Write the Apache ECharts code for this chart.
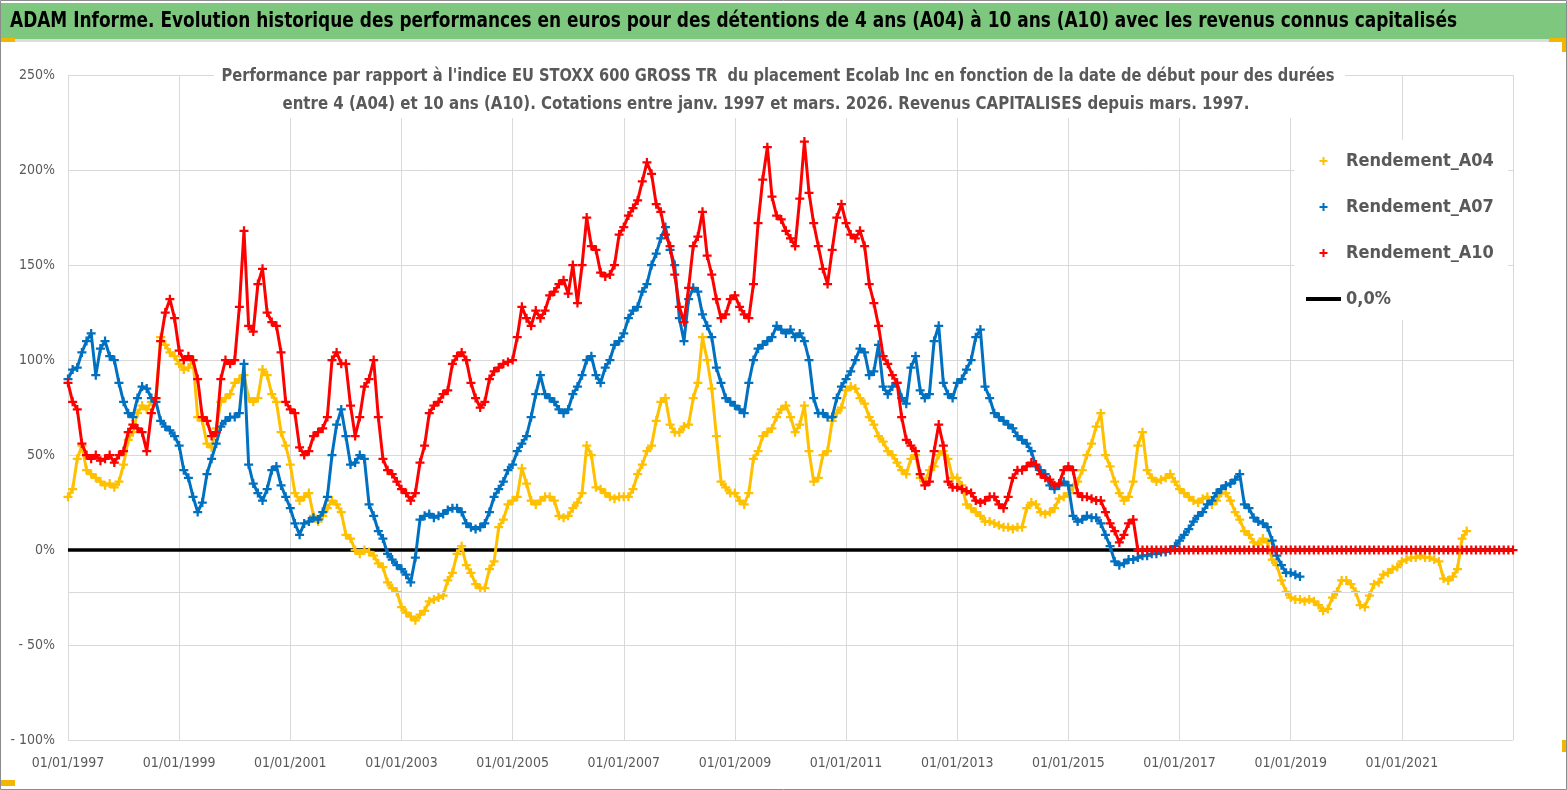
<!DOCTYPE html>
<html>
<head>
<meta charset="utf-8">
<title>Ecolab Inc - Rendements A04 A07 A10</title>
<script src="https://cdn.jsdelivr.net/npm/echarts@6/dist/echarts.min.js"></script>
<style>
  html, body { margin: 0; padding: 0; background: #fff; }
  #chart { width: 1567px; height: 790px; }
</style>
</head>
<body>
<div id="chart"></div>
<script>
// première date de la série, un point par mois
const START_YEAR = 1997;
const X_MAX = 26;            // 01/01/2023
const AXIS_CROSS = -22.4;    // ligne de l'axe horizontal

const Y_MIN = -100;
const Y_MAX = 250;
const Y_STEP = 50;

// Rendement_A04 (mensuel, à partir de janv. 1997)
const a04 = [
  28, 32, 48, 55, 42, 40, 38, 36, 34, 35, 33, 36,          // 1997
  45, 58, 62, 72, 76, 74, 78, 80, 112, 108, 104, 102,      // 1998
  98, 95, 96, 100, 70, 68, 56, 54, 64, 78, 80, 82,         // 1999
  88, 90, 92, 80, 78, 80, 95, 92, 82, 78, 62, 55,          // 2000
  45, 30, 26, 28, 30, 18, 15, 18, 22, 26, 24, 20,          // 2001
  8, 6, 0, -2, 0, -1, -3, -7, -9, -17, -20, -22,           // 2002
  -30, -33, -35, -37, -34, -32, -27, -26, -25, -24, -16, -12, // 2003
  -2, 2, -8, -12, -18, -20, -20, -10, -6, 12, 16, 24,      // 2004
  26, 28, 43, 35, 26, 24, 26, 28, 28, 26, 18, 17,          // 2005
  18, 22, 25, 30, 55, 50, 33, 32, 30, 28, 27, 28,          // 2006
  28, 28, 32, 40, 45, 52, 55, 68, 78, 80, 66, 62,          // 2007
  62, 65, 66, 80, 88, 112, 100, 85, 60, 36, 33, 30,        // 2008
  30, 26, 24, 30, 48, 52, 60, 62, 64, 70, 74, 76,          // 2009
  70, 62, 66, 76, 52, 36, 38, 50, 52, 68, 72, 75,          // 2010
  84, 86, 85, 80, 77, 70, 66, 60, 57, 52, 50, 46,          // 2011
  42, 40, 48, 50, 38, 36, 42, 44, 50, 52, 48, 38,          // 2012
  38, 34, 24, 22, 20, 18, 15, 15, 14, 13, 12, 12,          // 2013
  11, 12, 12, 22, 25, 24, 20, 19, 20, 22, 27, 28,          // 2014
  30, 33, 36, 42, 50, 56, 65, 72, 50, 44, 36, 30,          // 2015
  26, 28, 36, 55, 62, 42, 38, 36, 37, 38, 40, 36,          // 2016
  32, 30, 28, 26, 25, 27, 28, 24, 26, 30, 30, 26,          // 2017
  20, 16, 10, 8, 4, 3, 6, 4, -5, -8, -16, -22,             // 2018
  -25, -26, -26, -27, -26, -27, -29, -32, -31, -25, -22, -16, // 2019
  -16, -18, -22, -29, -30, -24, -18, -17, -13, -12, -10, -9, // 2020
  -6, -5, -4, -4, -3, -4, -4, -5, -6, -15, -16, -14,       // 2021
  -10, 6, 10                                               // 2022
];

// Rendement_A07
const a07 = [
  90, 95, 96, 104, 110, 114, 92, 106, 110, 102, 100, 88,   // 1997
  78, 72, 70, 80, 86, 85, 80, 78, 68, 65, 63, 60,          // 1998
  55, 42, 38, 28, 20, 25, 40, 48, 56, 65, 68, 70,          // 1999
  70, 72, 98, 45, 35, 30, 26, 32, 42, 44, 34, 28,          // 2000
  22, 14, 8, 14, 15, 17, 16, 20, 28, 50, 66, 74,           // 2001
  60, 45, 46, 50, 48, 24, 18, 10, 6, -2, -5, -8,           // 2002
  -10, -13, -17, -4, 16, 18, 19, 17, 18, 19, 21, 22,       // 2003
  22, 20, 14, 12, 11, 12, 14, 20, 28, 32, 36, 42,          // 2004
  45, 52, 56, 60, 70, 82, 92, 82, 80, 78, 74, 72,          // 2005
  74, 82, 86, 92, 100, 102, 92, 88, 96, 100, 108, 110,     // 2006
  114, 122, 126, 128, 136, 140, 150, 156, 164, 170, 158, 150, // 2007
  122, 110, 132, 138, 136, 124, 118, 112, 96, 88, 80, 78,  // 2008
  76, 74, 72, 88, 100, 106, 108, 110, 112, 118, 116, 114,  // 2009
  116, 112, 114, 110, 100, 80, 72, 72, 70, 70, 80, 86,     // 2010
  90, 94, 100, 106, 104, 92, 94, 108, 86, 82, 86, 88,      // 2011
  80, 77, 96, 102, 84, 80, 82, 110, 118, 88, 82, 80,       // 2012
  88, 90, 95, 100, 112, 116, 86, 80, 72, 70, 68, 66,       // 2013
  64, 60, 58, 56, 52, 44, 42, 40, 34, 32, 34, 36,          // 2014
  34, 18, 15, 16, 18, 17, 17, 14, 8, 2, -6, -8,            // 2015
  -7, -5, -5, -4, -3, -3, -2, -2, -1, -1, 0, 2,            // 2016
  5, 8, 11, 15, 18, 20, 24, 26, 30, 32, 34, 35,            // 2017
  37, 40, 24, 22, 17, 15, 14, 12, 5, -3, -8, -12,          // 2018
  -12, -13, -14                                            // 2019
];

// Rendement_A10 (nul après mars 2016 : durée non atteinte)
const a10 = [
  88, 78, 74, 56, 50, 48, 50, 47, 48, 50, 46, 50,          // 1997
  52, 62, 66, 64, 62, 52, 72, 80, 110, 125, 132, 122,      // 1998
  105, 100, 102, 100, 90, 70, 68, 60, 62, 90, 100, 98,     // 1999
  100, 128, 168, 118, 115, 140, 148, 125, 120, 118, 104, 78, // 2000
  74, 72, 54, 50, 52, 60, 62, 64, 70, 100, 104, 98,        // 2001
  98, 76, 60, 70, 86, 90, 100, 70, 48, 42, 40, 36,         // 2002
  32, 30, 26, 30, 46, 55, 72, 76, 78, 82, 84, 98,          // 2003
  102, 104, 100, 88, 80, 75, 78, 90, 94, 96, 98, 99,       // 2004
  100, 112, 128, 122, 118, 126, 122, 126, 134, 136, 140, 142, // 2005
  135, 150, 130, 150, 175, 160, 158, 146, 144, 145, 150, 166, // 2006
  170, 176, 180, 184, 194, 204, 198, 182, 178, 166, 160, 145, // 2007
  128, 120, 138, 160, 165, 178, 155, 145, 132, 122, 124, 132, // 2008
  134, 128, 124, 122, 140, 172, 195, 212, 186, 176, 174, 168, // 2009
  164, 160, 185, 215, 188, 172, 160, 148, 140, 158, 175, 182, // 2010
  172, 166, 164, 168, 160, 140, 130, 118, 102, 98, 92, 88, // 2011
  70, 58, 55, 52, 40, 34, 36, 52, 66, 55, 36, 33,          // 2012
  33, 32, 31, 30, 26, 25, 26, 28, 28, 24, 22, 28,          // 2013
  38, 42, 42, 44, 46, 45, 40, 38, 37, 34, 35, 42,          // 2014
  44, 42, 30, 28, 28, 27, 26, 26, 20, 14, 10, 4,           // 2015
  8, 14, 16, 0, 0, 0, 0, 0, 0, 0, 0, 0,                    // 2016
  0, 0, 0, 0, 0, 0, 0, 0, 0, 0, 0, 0,                      // 2017
  0, 0, 0, 0, 0, 0, 0, 0, 0, 0, 0, 0,                      // 2018
  0, 0, 0, 0, 0, 0, 0, 0, 0, 0, 0, 0,                      // 2019
  0, 0, 0, 0, 0, 0, 0, 0, 0, 0, 0, 0,                      // 2020
  0, 0, 0, 0, 0, 0, 0, 0, 0, 0, 0, 0,                      // 2021
  0, 0, 0, 0, 0, 0, 0, 0, 0, 0, 0, 0,                      // 2022
  0                                                        // 2023
];

// ligne 0,0%
const zeroLine = [[0, 0], [X_MAX, 0]];

const seriesNames = ['Rendement_A04', 'Rendement_A07', 'Rendement_A10', '0,0%'];
const seriesColors = ['#FFC000', '#0070C0', '#FF0000', '#000000'];

const TITLE = 'ADAM Informe. Evolution historique des performances en euros pour des détentions de 4 ans (A04) à 10 ans (A10) avec les revenus connus capitalisés';
const SUB1 = "Performance par rapport à l'indice EU STOXX 600 GROSS TR  du placement Ecolab Inc en fonction de la date de début pour des durées";
const SUB2 = 'entre 4 (A04) et 10 ans (A10). Cotations entre janv. 1997 et mars. 2026. Revenus CAPITALISES depuis mars. 1997.';

const FONT = '"Liberation Sans Narrow", "DejaVu Sans Condensed", "Arial Narrow", sans-serif';
const PLUS = 'path://M3,0h2v8h-2zM0,3h8v2h-8z';
const DASH = 'path://M0,0h35v4h-35z';

// largeur horizontale ajustée sur la capture
function fitScale(text, size, weight, target) {
  const ctx = document.createElement('canvas').getContext('2d');
  ctx.font = weight + ' ' + size + 'px ' + FONT;
  return target / ctx.measureText(text).width;
}

function textEl(text, x, y, size, weight, color, align, target) {
  return {
    type: 'text', x, y, z: 20,
    scaleX: fitScale(text, size, weight, target),
    style: {
      text, fontSize: size, fontWeight: weight, fontFamily: FONT, fill: color,
      align, textAlign: align, verticalAlign: 'middle', textVerticalAlign: 'middle'
    }
  };
}

const toPoints = (vals) => vals.map((v, i) => [i / 12, v]);

function perfSeries(idx, vals) {
  const color = seriesColors[idx];
  return {
    name: seriesNames[idx],
    type: 'line',
    data: toPoints(vals),
    symbol: PLUS,
    symbolSize: 9,
    showSymbol: true,
    itemStyle: { color },
    lineStyle: { color, width: 3 },
    emphasis: { disabled: true },
    z: 3 + idx
  };
}

const chart = echarts.init(document.getElementById('chart'));

chart.setOption({
  backgroundColor: '#ffffff',
  animation: false,
  grid: { left: 68, right: 54, top: 75, bottom: 50, containLabel: false },
  xAxis: {
    type: 'value',
    min: 0,
    max: X_MAX,
    interval: 2,
    axisLine: { show: true, lineStyle: { color: '#d9d9d9' } },
    axisTick: { show: false },
    splitLine: { show: true, lineStyle: { color: '#d9d9d9', width: 1 } },
    axisLabel: {
      color: '#595959', fontSize: 14, fontFamily: FONT, margin: 16,
      formatter: (v) => (v >= X_MAX ? '' : '01/01/' + (START_YEAR + v))
    }
  },
  yAxis: {
    type: 'value',
    min: Y_MIN,
    max: Y_MAX,
    interval: Y_STEP,
    axisLine: { show: true, lineStyle: { color: '#d9d9d9' } },
    axisTick: { show: false },
    splitLine: { show: true, lineStyle: { color: '#d9d9d9', width: 1 } },
    axisLabel: {
      color: '#595959', fontSize: 14, fontFamily: FONT, margin: 13,
      formatter: (v) => (v < 0 ? '- ' + (-v) + '%' : v + '%')
    }
  },
  legend: {
    orient: 'vertical',
    left: 1294,
    top: 140,
    padding: [9, 14, 9, 12],
    backgroundColor: '#ffffff',
    itemWidth: 35,
    itemHeight: 8,
    itemGap: 22,
    textStyle: { fontSize: 18, fontWeight: 'bold', color: '#595959', fontFamily: FONT, lineHeight: 24 },
    data: [
      { name: seriesNames[0], icon: PLUS },
      { name: seriesNames[1], icon: PLUS },
      { name: seriesNames[2], icon: PLUS },
      { name: seriesNames[3], icon: DASH }
    ]
  },
  series: [
    {
      name: seriesNames[3],
      type: 'line',
      data: zeroLine,
      symbol: 'none',
      itemStyle: { color: seriesColors[3] },
      lineStyle: { color: seriesColors[3], width: 3.5 },
      emphasis: { disabled: true },
      z: 2,
      markLine: {
        silent: true,
        symbol: 'none',
        label: { show: false },
        lineStyle: { color: '#d9d9d9', width: 1, type: 'solid' },
        data: [{ yAxis: AXIS_CROSS }]
      }
    },
    perfSeries(0, a04),
    perfSeries(1, a07),
    perfSeries(2, a10)
  ],
  graphic: [
    { type: 'rect', z: 15, shape: { x: 0, y: 3, width: 1567, height: 36 }, style: { fill: '#7dc87e' } },
    { type: 'rect', z: 15, shape: { x: 0, y: 39, width: 1567, height: 3 }, style: { fill: '#dcdcdc' } },
    { type: 'rect', z: 16, shape: { x: 0, y: 38, width: 15, height: 4 }, style: { fill: '#f2b600' } },
    { type: 'rect', z: 16, shape: { x: 1549, y: 38, width: 18, height: 4 }, style: { fill: '#f2b600' } },
    { type: 'rect', z: 16, shape: { x: 1562, y: 38, width: 5, height: 14 }, style: { fill: '#f2b600' } },
    { type: 'rect', z: 16, shape: { x: 1562, y: 740, width: 5, height: 12 }, style: { fill: '#f2b600' } },
    { type: 'rect', z: 16, shape: { x: 0, y: 780, width: 15, height: 6 }, style: { fill: '#f2b600' } },
    { type: 'rect', z: 1, shape: { x: 214, y: 62, width: 1131, height: 56 }, style: { fill: '#ffffff' } },
    textEl(TITLE, 10, 21, 22, 'bold', '#000000', 'left', 1447),
    textEl(SUB1, 778, 76, 18, 'bold', '#595959', 'center', 1113),
    textEl(SUB2, 766, 104, 18, 'bold', '#595959', 'center', 967),
    { type: 'rect', z: 30, shape: { x: 0.5, y: 0.5, width: 1566, height: 789 }, style: { fill: 'none', stroke: '#8c8c8c', lineWidth: 1 } }
  ]
});
</script>
</body>
</html>
